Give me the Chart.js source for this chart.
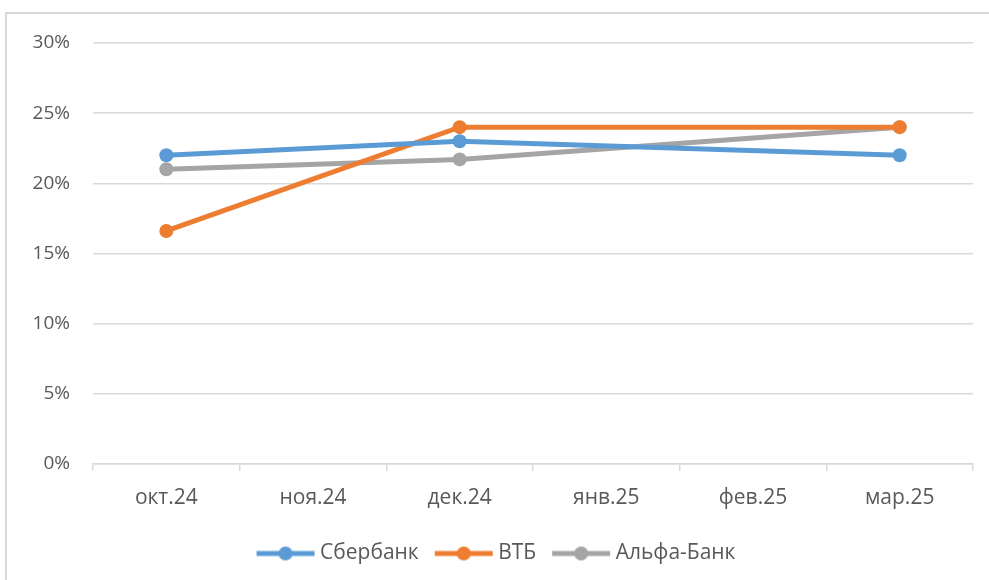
<!DOCTYPE html>
<html>
<head>
<meta charset="utf-8">
<script src="https://cdn.jsdelivr.net/npm/chart.js@4.4.1/dist/chart.umd.min.js"></script>
<style>
  html, body { margin: 0; padding: 0; background: #fff; overflow: hidden; }
  #frame { position: absolute; left: 5px; top: 12px; width: 1000px; height: 600px; border: 2px solid #d9d9d9; }
  #wrap { position: absolute; left: 0; top: 0; width: 989px; height: 580px; }
</style>
</head>
<body>
<div id="frame"></div>
<div id="wrap"><canvas id="rateChart" width="989" height="580"></canvas></div>
<script>
const months = ['окт.24', 'ноя.24', 'дек.24', 'янв.25', 'фев.25', 'мар.25'];
const sber = [22, null, 23, null, null, 22];
const vtb = [16.6, null, 24, null, null, 24];
const alfa = [21, null, 21.7, null, null, 24];
const yTicks = [0, 5, 10, 15, 20, 25, 30];

// legend marker: line with a dot in the middle
// (canvas is a bit wider than the legend box, the left part stays empty)
function legendMark(color) {
    const c = document.createElement('canvas');
    c.width = 68;
    c.height = 16;
    const g = c.getContext('2d');
    g.strokeStyle = color;
    g.lineWidth = 5;
    g.beginPath();
    g.moveTo(7, 8);
    g.lineTo(65, 8);
    g.stroke();
    g.fillStyle = color;
    g.beginPath();
    g.arc(36, 8, 7, 0, Math.PI * 2);
    g.fill();
    return c;
}

const font = "'Open Sans', sans-serif";
const textColor = '#595959';

function series(label, data, color) {
    return {
        label: label,
        data: data,
        borderColor: color,
        backgroundColor: color,
        borderWidth: 5,
        pointRadius: 7,
        pointHoverRadius: 7,
        pointBorderWidth: 0,
        spanGaps: true,
        tension: 0,
        legendMark: legendMark(color)
    };
}

const ctx = document.getElementById('rateChart').getContext('2d');

new Chart(ctx, {
    type: 'line',
    data: {
        labels: months,
        datasets: [
            series('Сбербанк', sber, '#5b9bd5'),
            series('ВТБ', vtb, '#ed7d31'),
            series('Альфа-Банк', alfa, '#a5a5a5')
        ]
    },
    options: {
        responsive: false,
        animation: false,
        layout: { padding: { left: 20, right: 16, top: 43, bottom: 6 } },
        scales: {
            x: {
                offset: true,
                grid: {
                    offset: true,
                    drawOnChartArea: false,
                    drawTicks: true,
                    tickLength: 7,
                    color: '#d9d9d9',
                    lineWidth: 1.5
                },
                border: { display: true, color: '#d9d9d9', width: 1.5 },
                ticks: { color: textColor, font: { family: font, size: 21 }, padding: 15 }
            },
            y: {
                min: 0,
                max: 30,
                afterBuildTicks: function(scale) {
                    scale.ticks = yTicks.map(v => ({ value: v }));
                },
                afterFit: function(scale) { scale.width = 73; },
                grid: { color: '#d9d9d9', lineWidth: 1.5, drawTicks: false },
                border: { display: false },
                ticks: {
                    color: textColor,
                    font: { family: font, size: 19 },
                    padding: 23,
                    callback: v => v + '%'
                }
            }
        },
        plugins: {
            tooltip: { enabled: false },
            legend: {
                position: 'bottom',
                labels: {
                    color: textColor,
                    font: { family: font, size: 21 },
                    usePointStyle: true,
                    pointStyleWidth: 52,
                    boxHeight: 16,
                    padding: 17,
                    generateLabels: function(chart) {
                        return chart.data.datasets.map((ds, i) => ({
                            text: ds.label,
                            fontColor: textColor,
                            fillStyle: ds.borderColor,
                            strokeStyle: ds.borderColor,
                            lineWidth: 0,
                            pointStyle: ds.legendMark,
                            hidden: false,
                            datasetIndex: i
                        }));
                    }
                }
            }
        }
    }
});
</script>
</body>
</html>
